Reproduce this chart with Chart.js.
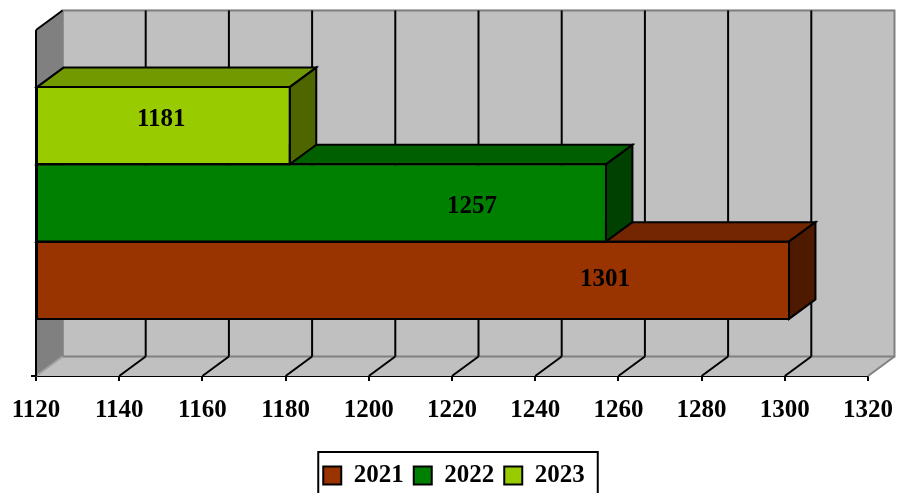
<!DOCTYPE html>
<html>
<head>
<meta charset="utf-8">
<title>chart</title>
<script src="https://cdn.jsdelivr.net/npm/chart.js@4"></script>
<style>
html, body { margin: 0; padding: 0; background: #fff; overflow: hidden; }
canvas { display: block; }
</style>
</head>
<body>
<canvas id="canvas" width="897" height="493"></canvas>
<script>
var categories = [""];
var years = ["2021", "2022", "2023"];
var values2021 = [1301];
var values2022 = [1257];
var values2023 = [1181];
var xTicks = [1120, 1140, 1160, 1180, 1200, 1220, 1240, 1260, 1280, 1300, 1320];

var frontColors = ["#993300", "#008000", "#99cc00"];
var topColors = ["#732600", "#006000", "#739900"];
var sideColors = ["#4d1a00", "#004000", "#4d6600"];

// depth of the fake 3d box
var depthX = 26.5;
var depthY = -19.5;
var fontName = "'Liberation Serif', serif";
var legendShift = 2;

// where the value labels sit, relative to the end and middle of their bar
var labelShiftX = [-184, -134, -128.5];
var labelShiftY = [-1, 3.5, -6.5];

function poly(ctx, pts, fill, stroke, width) {
    ctx.beginPath();
    ctx.moveTo(pts[0][0], pts[0][1]);
    for (var i = 1; i < pts.length; i++) {
        ctx.lineTo(pts[i][0], pts[i][1]);
    }
    ctx.closePath();
    if (fill) {
        ctx.fillStyle = fill;
        ctx.fill();
    }
    if (stroke) {
        ctx.strokeStyle = stroke;
        ctx.lineWidth = width;
        ctx.lineJoin = "miter";
        ctx.stroke();
    }
}

function line(ctx, x1, y1, x2, y2, color, width) {
    ctx.beginPath();
    ctx.moveTo(x1, y1);
    ctx.lineTo(x2, y2);
    ctx.strokeStyle = color;
    ctx.lineWidth = width;
    ctx.stroke();
}

var boxPlugin = {
    id: "box3d",
    afterLayout: function (chart) {
        chart.legend.left += legendShift;
        chart.legend.right += legendShift;
    },
    beforeDatasetsDraw: function (chart) {
        var ctx = chart.ctx;
        var a = chart.chartArea;
        var dx = depthX, dy = depthY;
        ctx.save();
        // floor
        poly(ctx, [[a.left, a.bottom], [a.right, a.bottom], [a.right + dx, a.bottom + dy], [a.left + dx, a.bottom + dy]], "#c0c0c0");
        // back wall
        poly(ctx, [[a.left + dx, a.top + dy], [a.right + dx, a.top + dy], [a.right + dx, a.bottom + dy], [a.left + dx, a.bottom + dy]], "#c0c0c0", "#808080", 2);
        line(ctx, a.left + dx, a.top + dy - 1, a.right + dx, a.top + dy - 1, "#b4b4b4", 1);
        // side wall
        poly(ctx, [[a.left, a.top], [a.left + dx, a.top + dy], [a.left + dx, a.bottom + dy], [a.left, a.bottom]], "#808080");
        line(ctx, a.left + dx, a.top + dy, a.left + dx, a.bottom + dy, "#808080", 2);
        line(ctx, a.left, a.bottom, a.left + dx, a.bottom + dy, "#a0a0a0", 2);
        line(ctx, a.right, a.bottom, a.right + dx, a.bottom + dy, "#808080", 2);
        // grid lines on wall and floor
        var x = chart.scales.x;
        for (var i = 1; i < xTicks.length - 1; i++) {
            var px = x.getPixelForValue(xTicks[i]);
            line(ctx, px + dx, a.top + dy, px + dx, a.bottom + dy, "#000", 2);
            line(ctx, px, a.bottom, px + dx, a.bottom + dy, "#000", 2);
        }
        line(ctx, a.left, a.top, a.left + dx, a.top + dy, "#000", 2);
        line(ctx, a.left, a.top, a.left, a.bottom, "#000", 2);
        line(ctx, a.left - 5, a.bottom, a.left, a.bottom, "#000", 2);
        // top and end faces go behind the front faces the library draws
        for (var k = 0; k < years.length; k++) {
            var bar = chart.getDatasetMeta(k).data[0];
            var top = bar.y - bar.height / 2;
            var bottom = bar.y + bar.height / 2;
            poly(ctx, [[bar.base, top], [bar.x, top], [bar.x + dx, top + dy], [bar.base + dx, top + dy]], topColors[k], "#000", 2);
            poly(ctx, [[bar.x, top], [bar.x + dx, top + dy], [bar.x + dx, bottom + dy], [bar.x, bottom]], sideColors[k], "#000", 2);
        }
        ctx.restore();
    },
    afterDatasetsDraw: function (chart) {
        var ctx = chart.ctx;
        ctx.save();
        // even 2px outline, the library's own border sits inside the bar
        for (var m = 0; m < years.length; m++) {
            var f = chart.getDatasetMeta(m).data[0];
            var t = f.y - f.height / 2;
            var u = f.y + f.height / 2;
            poly(ctx, [[f.base, t], [f.x, t], [f.x, u], [f.base, u]], null, "#000", 2);
        }
        // value labels
        ctx.font = "bold 25px " + fontName;
        ctx.fillStyle = "#000";
        ctx.textAlign = "center";
        ctx.textBaseline = "middle";
        for (var j = 0; j < years.length; j++) {
            var b = chart.getDatasetMeta(j).data[0];
            ctx.fillText(chart.data.datasets[j].data[0], b.x + labelShiftX[j], b.y + labelShiftY[j]);
        }
        ctx.restore();
    },
    afterDraw: function (chart) {
        // frame around the legend, runs off the bottom of the picture
        var ctx = chart.ctx;
        var boxes = chart.legend.legendHitBoxes;
        var first = boxes[0];
        var last = boxes[boxes.length - 1];
        var left = first.left + legendShift - 7;
        var right = last.left + legendShift + last.width + 11;
        ctx.save();
        ctx.strokeStyle = "#000";
        ctx.lineWidth = 2;
        ctx.strokeRect(left, 452, right - left, 60);
        ctx.restore();
    }
};

var datasets = [];
var seriesValues = [values2021, values2022, values2023];
for (var i = 0; i < years.length; i++) {
    datasets.push({
        label: years[i],
        data: seriesValues[i],
        base: xTicks[0],
        order: years.length - i,
        backgroundColor: frontColors[i],
        borderColor: "#000",
        borderWidth: 1,
        borderSkipped: false,
        barPercentage: 1,
        categoryPercentage: 0.67,
        clip: false
    });
}

new Chart(document.getElementById("canvas").getContext("2d"), {
    type: "bar",
    data: { labels: categories, datasets: datasets },
    plugins: [boxPlugin],
    options: {
        indexAxis: "y",
        responsive: false,
        animation: false,
        layout: { padding: { left: 36, right: 29, top: 30, bottom: -5 } },
        scales: {
            x: {
                min: xTicks[0],
                max: xTicks[xTicks.length - 1],
                afterFit: function (scale) {
                    scale.height = 77;
                    scale.paddingLeft = 20;
                    scale.paddingRight = 20;
                },
                afterBuildTicks: function (scale) {
                    scale.ticks = xTicks.map(function (v) { return { value: v }; });
                },
                ticks: {
                    autoSkip: false,
                    maxRotation: 0,
                    padding: 15,
                    color: "#000",
                    font: { family: fontName, size: 25, weight: "bold" },
                    callback: function (v) { return String(v); }
                },
                grid: { drawOnChartArea: false, drawTicks: true, tickLength: 5, color: "#000", lineWidth: 2 },
                border: { color: "#000", width: 2 }
            },
            y: { display: false }
        },
        plugins: {
            legend: {
                position: "bottom",
                labels: {
                    boxWidth: 18,
                    boxHeight: 18,
                    padding: 10,
                    color: "#000",
                    font: { family: fontName, size: 25, weight: "bold" },
                    sort: function (a, b) { return a.datasetIndex - b.datasetIndex; },
                    generateLabels: function (chart) {
                        var items = Chart.defaults.plugins.legend.labels.generateLabels(chart);
                        items.forEach(function (item) { item.lineWidth = 2; });
                        return items;
                    }
                }
            },
            tooltip: { enabled: false }
        }
    }
});
</script>
</body>
</html>
